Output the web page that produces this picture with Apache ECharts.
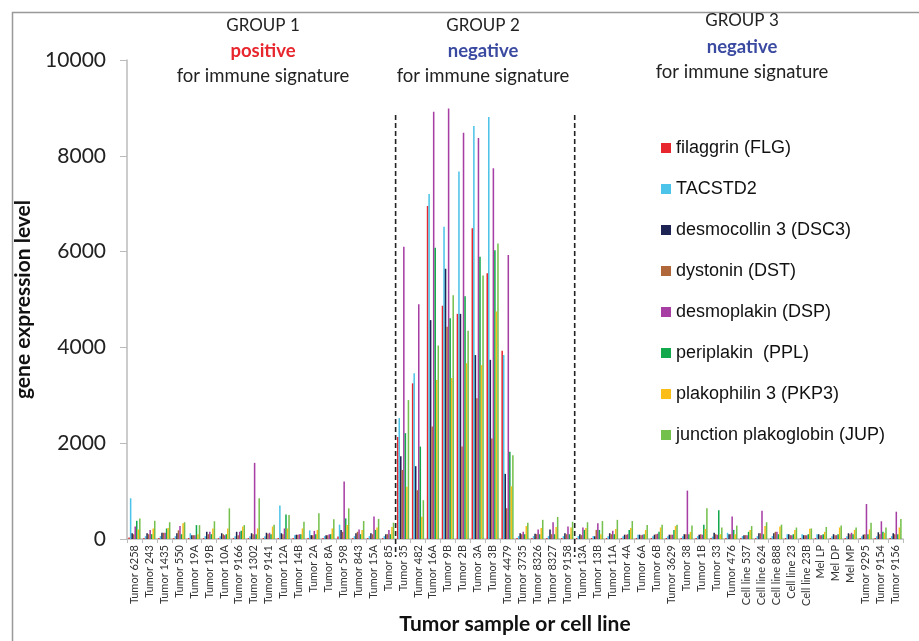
<!DOCTYPE html>
<html><head><meta charset="utf-8">
<script src="https://cdn.jsdelivr.net/npm/echarts@6/dist/echarts.min.js"></script>
<style>html,body{margin:0;padding:0;background:#fff}#c{width:919px;height:641px}</style>
</head><body><div id="c"></div>
<script>
const categories = ['Tumor 6258','Tumor 243','Tumor 1435','Tumor 550','Tumor 19A','Tumor 19B','Tumor 10A','Tumor 9166','Tumor 1302','Tumor 9141','Tumor 12A','Tumor 14B','Tumor 2A','Tumor 8A','Tumor 598','Tumor 843','Tumor 15A','Tumor 85',
'Tumor 35','Tumor 482','Tumor 16A','Tumor 9B','Tumor 2B','Tumor 3A','Tumor 3B','Tumor 4479','Tumor 3735','Tumor 8326','Tumor 8327','Tumor 9158',
'Tumor 13A','Tumor 13B','Tumor 11A','Tumor 4A','Tumor 6A','Tumor 6B','Tumor 3629','Tumor 38','Tumor 1B','Tumor 33','Tumor 476','Cell line 537','Cell line 624','Cell line 888','Cell line 23','Cell line 23B','Mel LP','Mel DP','Mel MP','Tumor 9295','Tumor 9154','Tumor 9156'];

const seriesNames = ['filaggrin (FLG)','TACSTD2','desmocollin 3 (DSC3)','dystonin (DST)','desmoplakin (DSP)','periplakin  (PPL)','plakophilin 3 (PKP3)','junction plakoglobin (JUP)'];

const FLG = [30,20,20,20,20,20,20,20,20,20,20,20,20,20,50,20,20,20, 2130,3250,6950,4870,4700,6490,5550,3930,20,20,20,20, 20,20,20,20,20,20,20,20,20,20,20,20,20,20,20,20,20,20,20,20,20,20];
const TACSTD2 = [850,60,60,60,120,60,60,60,60,60,700,80,180,60,300,60,60,60, 2525,3460,7200,6520,7670,8620,8810,3840,60,60,60,60, 60,60,60,60,90,60,60,60,60,50,130,60,60,60,100,100,100,60,60,60,60,60];
const DSC3 = [120,120,130,120,80,150,120,150,120,130,120,90,80,80,190,120,120,100, 1730,1520,4570,5640,4700,3840,3740,1360,120,110,200,120, 100,60,120,90,90,90,90,100,90,130,100,80,120,120,100,80,100,100,120,90,140,120];
const DST = [100,100,130,180,80,100,100,80,100,110,100,90,80,80,150,150,100,100, 1440,1020,2350,4430,1930,2940,2100,640,100,100,100,100, 80,190,100,90,80,100,90,100,100,100,100,80,120,150,80,80,80,80,100,100,100,100];
const DSP = [260,190,130,270,80,150,80,150,1590,130,220,100,170,100,1200,200,470,190, 6100,4900,8920,8990,8480,8370,7740,5930,150,200,350,260, 240,330,170,100,90,110,90,1010,90,90,470,80,590,150,80,80,80,80,130,730,370,570];
const PPL = [380,100,220,100,290,100,100,170,100,100,510,100,100,100,430,100,190,100, 2210,1930,6080,4610,5070,5890,6030,1820,100,100,100,100, 190,190,100,190,100,150,190,100,300,600,190,150,100,100,100,100,100,100,100,100,150,100];
const PKP3 = [200,220,230,330,100,220,220,260,220,260,220,220,190,220,290,190,240,250, 1090,465,3320,3360,3670,3630,4750,1100,270,230,250,240, 230,100,210,230,190,240,270,150,210,100,100,190,270,260,190,215,150,240,190,200,130,240];
const JUP = [430,380,350,350,290,370,640,290,850,300,500,360,540,410,640,375,420,340, 2900,810,4040,5090,4350,5500,6170,1750,340,400,460,360, 350,375,400,375,290,300,300,280,640,240,280,270,350,300,240,220,250,280,240,340,240,420];

const colors = ['#e8262d','#4cc3e8','#1d2352','#b0683a','#a63ea4','#12a84b','#fbbd18','#74c04c'];
const yTicks = {min: 0, max: 10000, interval: 2000};
// group boundaries: dashed line after these categories, top value
const groupBreaks = [['Tumor 85', 8850], ['Tumor 9158', 8850]];

const allValues = [FLG, TACSTD2, DSC3, DST, DSP, PPL, PKP3, JUP];
const chart = echarts.init(document.getElementById('c'));

const barSeries = seriesNames.map((n, i) => ({
  name: n, type: 'bar', data: allValues[i],
  itemStyle: {color: colors[i]},
  barGap: '0%', barCategoryGap: '18%',
  animation: false
}));

const breakSeries = {
  type: 'custom', name: 'breaks', silent: true, clip: false, z: 10,
  encode: {x: 0, y: 1},
  data: groupBreaks.map(b => [categories.indexOf(b[0]), b[1]]),
  renderItem: function (params, api) {
    const idx = api.value(0);
    const top = api.coord([idx, api.value(1)]);
    const base = api.coord([idx, 0]);
    const half = api.size([1, 0])[0] / 2;
    const x = top[0] + half;
    return {
      type: 'line',
      shape: {x1: x, y1: top[1], x2: x, y2: base[1] + 18},
      style: {stroke: '#222', lineWidth: 1.6, lineDash: [5, 3]}
    };
  }
};

const hdr = (x, y1, y2, y3, g, word, col) => [
  {type: 'text', x: x, y: y1, style: {text: g, font: '17px Lato', fill: '#222', align: 'center', verticalAlign: 'middle'}},
  {type: 'text', x: x, y: y2, style: {text: word, font: 'bold 18.5px Lato', fill: col, align: 'center', verticalAlign: 'middle'}},
  {type: 'text', x: x, y: y3, style: {text: 'for immune signature', font: '18.5px Lato', fill: '#222', align: 'center', verticalAlign: 'middle'}}
];

chart.setOption({
  animation: false,
  textStyle: {fontFamily: 'Lato'},
  grid: {left: 127, right: 16, top: 60, bottom: 102},
  legend: {
    data: seriesNames, orient: 'vertical', left: 656, top: 134,
    itemWidth: 10, itemHeight: 10, itemGap: 23, icon: 'rect',
    textStyle: {fontFamily: 'Liberation Sans', fontSize: 18, color: '#111'}
  },
  xAxis: {
    type: 'category', data: categories,
    name: 'Tumor sample or cell line', nameLocation: 'middle', nameGap: 62,
    nameTextStyle: {fontFamily: 'Lato', fontWeight: 'bold', fontSize: 21, color: '#111'},
    axisLine: {lineStyle: {color: '#bbb', width: 1.5}},
    axisTick: {show: true, length: 4, lineStyle: {color: '#bbb'}},
    axisLabel: {rotate: 90, interval: 0, fontSize: 11, color: '#333', fontFamily: 'Lato', margin: 6}
  },
  yAxis: {
    type: 'value', min: yTicks.min, max: yTicks.max, interval: yTicks.interval,
    name: 'gene expression level', nameLocation: 'middle', nameGap: 78,
    nameTextStyle: {fontFamily: 'Lato', fontWeight: 'bold', fontSize: 21, color: '#111'},
    axisLine: {show: true, lineStyle: {color: '#bbb', width: 1.5}},
    axisTick: {show: true, length: 7, lineStyle: {color: '#bbb'}},
    splitLine: {show: false},
    axisLabel: {fontSize: 21, color: '#222', fontFamily: 'Lato', margin: 21, formatter: v => String(v)}
  },
  graphic: [
    {type: 'rect', left: 10, top: 10, shape: {width: 1000, height: 1000}, style: {fill: 'none', stroke: '#999', lineWidth: 1.5}, silent: true},
    ...hdr(263, 26, 51, 76, 'GROUP 1', 'positive', '#e8262d'),
    ...hdr(483, 26, 51, 76, 'GROUP 2', 'negative', '#3a4aa0'),
    ...hdr(742, 21, 47, 72, 'GROUP 3', 'negative', '#3a4aa0')
  ],
  series: [...barSeries, breakSeries]
});
</script></body></html>
